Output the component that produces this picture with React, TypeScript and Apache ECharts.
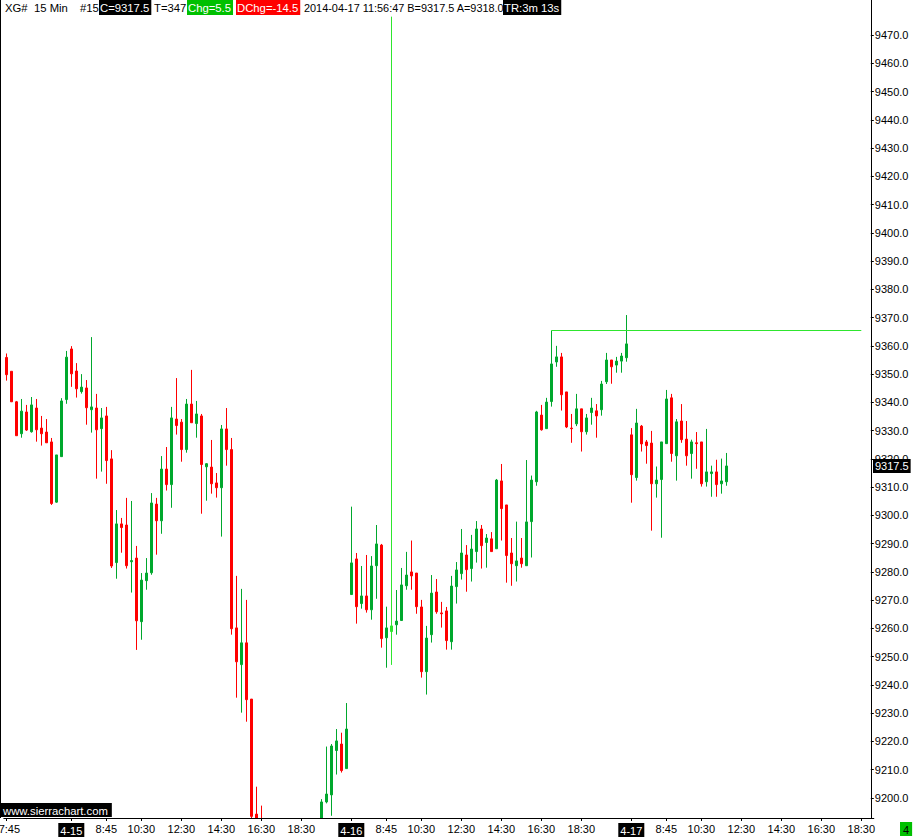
import React, { useEffect, useRef } from 'react';
import * as echarts from 'echarts';

const FONT = '"Liberation Sans", Arial, sans-serif';
const HFS = 11.3;
const UP = '#00a82d';
const DOWN = '#ff0000';
const LIME = '#2ee62e';

// 15-minute slots: 4-14 from 17:45, then full sessions 7:00-20:45, 4-17 up to 19:00
const sessions: [string, number, number][] = [
  ['4-14', 17 * 60 + 45, 20 * 60 + 45],
  ['4-15', 7 * 60, 20 * 60 + 45],
  ['4-16', 7 * 60, 20 * 60 + 45],
  ['4-17', 7 * 60, 19 * 60],
];
const categories: string[] = [];
sessions.forEach(([d, s, e]) => {
  for (let m = s; m <= e; m += 15) {
    categories.push(`${d} ${Math.floor(m / 60)}:${String(m % 60).padStart(2, '0')}`);
  }
});

const tickIdx = [0, 13, 20, 27, 35, 43, 51, 59, 69, 76, 83, 91, 99, 107, 115, 125, 132, 139, 147, 155, 163, 171];
const tickText = ['17:45', '4-15', '8:45', '10:30', '12:30', '14:30', '16:30', '18:30', '4-16', '8:45', '10:30', '12:30', '14:30', '16:30', '18:30', '4-17', '8:45', '10:30', '12:30', '14:30', '16:30', '18:30'];

const opens = [
  9355.9, 9351.0, 9340.2, 9328.9, 9336.6, 9329.6, 9338.0, 9330.9, 9329.5, 9326.0,
  9304.7, 9320.8, 9341.0, 9358.9, 9351.1, 9343.8, 9345.1, 9337.4, 9338.0, 9330.7,
  9335.2, 9320.0, 9283.3, 9297.0, 9296.6, 9283.6, 9284.9, 9262.4, 9276.9, 9279.7,
  9304.0, 9298.1, 9316.4, 9310.9, 9334.1, 9333.0, 9323.3, 9339.4, 9332.5, 9335.2,
  9317.2, 9317.1, 9311.5, 9309.8, 9330.6, 9323.3, 9260.2, 9247.2, 9254.9, 9235.0,
  9194.3, 9185.0, 9180, 9175, 9179, 9172, 9177, 9182, 9178, 9183,
  9181, 9185, 9184, 9188.0, 9198.6, 9201.1, 9216.8, 9219.1, 9210.4, 9272.0,
  9284.6, 9268.8, 9271.5, 9266.6, 9282.2, 9289.5, 9256.7, 9258.9, 9261.3, 9262.8,
  9275.1, 9280.0, 9279.6, 9267.6, 9244.7, 9257.8, 9272.9, 9265.5, 9266.2, 9255.3,
  9274.8, 9279.4, 9286.0, 9281.2, 9287.2, 9295.2, 9290.4, 9291.7, 9288.2, 9312.2,
  9303.7, 9286.7, 9282.2, 9284.9, 9282.2, 9297.8, 9311.9, 9335.5, 9330.7, 9340.3,
  9354.3, 9356.1, 9343.7, 9330.9, 9332.4, 9337.7, 9329.6, 9336.4, 9337.0, 9337.4,
  9347.3, 9355.0, 9353.2, 9354.6, 9355.8, 9328.5, 9313.4, 9331.6, 9326.0, 9325.6,
  9311.2, 9312.7, 9325.4, 9341.6, 9321.1, 9333.4, 9327.0, 9321.9, 9325.7, 9326.0,
  9311.9, 9314.8, 9315.4, 9311.2, 9311.9,
];
const highs = [
  9357.3, 9351.0, 9340.5, 9341.2, 9339.1, 9341.9, 9341.2, 9335.2, 9334.1, 9327.4,
  9321.4, 9341.5, 9358.2, 9359.9, 9353.9, 9350.0, 9347.9, 9363.1, 9343.0, 9338.0,
  9338.4, 9323.1, 9301.9, 9299.1, 9306.2, 9305.1, 9289.2, 9279.6, 9284.9, 9307.9,
  9306.2, 9321.0, 9324.2, 9338.4, 9348.6, 9334.1, 9341.2, 9351.5, 9340.5, 9335.9,
  9318.5, 9326.7, 9315.0, 9332.0, 9338.0, 9327.4, 9278.6, 9274.0, 9270.1, 9235.0,
  9204.0, 9197.3, 9188, 9183, 9186, 9180, 9185, 9189, 9186, 9190,
  9188, 9191, 9190, 9199.6, 9218.2, 9219.1, 9224.4, 9223.1, 9233.6, 9303.1,
  9286.7, 9282.1, 9286.0, 9285.6, 9296.6, 9289.9, 9267.7, 9476.5, 9273.6, 9281.4,
  9287.1, 9291.1, 9279.6, 9270.1, 9260.9, 9278.9, 9277.5, 9269.4, 9267.6, 9278.6,
  9283.5, 9295.2, 9289.5, 9293.1, 9298.0, 9296.6, 9293.4, 9294.1, 9312.9, 9318.2,
  9303.7, 9292.0, 9297.8, 9292.0, 9319.6, 9314.1, 9337.0, 9339.1, 9341.6, 9365.4,
  9360.0, 9357.5, 9343.7, 9335.9, 9343.0, 9337.7, 9335.9, 9341.6, 9339.4, 9347.6,
  9357.5, 9355.0, 9356.1, 9357.5, 9370.9, 9330.9, 9337.7, 9332.0, 9326.7, 9329.9,
  9317.3, 9326.0, 9344.4, 9343.0, 9334.1, 9339.4, 9333.4, 9326.8, 9329.5, 9326.0,
  9330.6, 9317.6, 9319.7, 9320.1, 9322.1,
];
const lows = [
  9347.7, 9340.2, 9328.2, 9327.5, 9329.9, 9329.3, 9326.1, 9324.7, 9325.7, 9303.7,
  9304.5, 9320.8, 9339.5, 9345.5, 9341.7, 9343.1, 9332.1, 9329.3, 9313.0, 9315.5,
  9311.2, 9281.4, 9277.6, 9286.8, 9281.2, 9272.7, 9252.4, 9256.0, 9273.7, 9279.0,
  9286.1, 9293.5, 9308.8, 9302.7, 9328.6, 9319.0, 9322.2, 9332.8, 9327.5, 9300.6,
  9305.2, 9307.7, 9306.3, 9292.5, 9317.6, 9257.8, 9235.5, 9230.2, 9227.0, 9190.0,
  9180.0, 9176.0, 9172, 9168, 9170, 9165, 9171, 9176, 9173, 9177,
  9175, 9179, 9180, 9185.0, 9198.1, 9193.7, 9208.3, 9209.0, 9210.4, 9272.0,
  9261.7, 9267.0, 9265.6, 9263.1, 9270.5, 9253.2, 9246.1, 9247.1, 9257.8, 9262.8,
  9273.7, 9273.7, 9265.2, 9242.6, 9236.6, 9255.0, 9265.2, 9260.3, 9252.5, 9252.5,
  9268.8, 9277.3, 9273.0, 9276.6, 9283.3, 9281.2, 9281.5, 9287.2, 9288.2, 9291.1,
  9276.2, 9275.1, 9276.6, 9281.5, 9282.2, 9285.1, 9310.5, 9330.0, 9330.7, 9338.5,
  9352.6, 9337.1, 9330.9, 9325.7, 9331.6, 9322.6, 9328.6, 9332.1, 9327.5, 9335.3,
  9346.5, 9346.6, 9350.5, 9350.5, 9354.4, 9304.5, 9312.3, 9322.6, 9318.3, 9294.6,
  9306.3, 9292.1, 9325.4, 9319.0, 9312.3, 9325.7, 9317.6, 9313.0, 9316.5, 9310.2,
  9310.2, 9306.6, 9306.6, 9307.7, 9310.5,
];
const closes = [
  9349.8, 9340.2, 9328.2, 9336.9, 9330.2, 9339.1, 9330.3, 9328.9, 9325.7, 9304.2,
  9321.4, 9340.5, 9356.0, 9350.1, 9344.8, 9345.4, 9338.1, 9338.4, 9330.3, 9334.5,
  9319.4, 9282.1, 9297.0, 9295.7, 9282.2, 9284.0, 9262.7, 9277.1, 9279.6, 9304.4,
  9298.1, 9316.4, 9310.9, 9334.5, 9331.8, 9323.3, 9339.4, 9332.8, 9335.9, 9318.0,
  9318.3, 9311.2, 9309.8, 9330.6, 9323.3, 9259.9, 9248.2, 9254.9, 9234.8, 9193.5,
  9184.0, 9180.0, 9175, 9179, 9172, 9177, 9182, 9178, 9183, 9181,
  9185, 9184, 9188, 9198.6, 9201.4, 9218.4, 9220.2, 9209.7, 9224.4, 9283.2,
  9267.7, 9271.5, 9266.6, 9282.1, 9289.9, 9256.4, 9260.2, 9260.9, 9262.6, 9275.4,
  9278.9, 9278.6, 9267.7, 9244.7, 9256.6, 9272.5, 9265.9, 9265.2, 9255.7, 9275.0,
  9280.7, 9286.7, 9280.8, 9288.1, 9295.2, 9289.3, 9292.0, 9287.2, 9312.5, 9302.4,
  9285.8, 9282.9, 9283.9, 9282.9, 9297.7, 9312.5, 9336.6, 9330.3, 9340.1, 9353.6,
  9356.1, 9342.7, 9331.3, 9330.7, 9337.7, 9329.6, 9334.5, 9338.0, 9335.2, 9346.5,
  9355.0, 9352.6, 9354.6, 9356.4, 9360.7, 9314.4, 9332.7, 9325.3, 9324.7, 9311.2,
  9312.5, 9326.0, 9341.2, 9321.9, 9333.1, 9326.8, 9321.1, 9326.0, 9325.4, 9311.2,
  9315.4, 9315.4, 9310.9, 9312.2, 9317.5,
];

const spikeBar = 77; // highlighted bar with the bad-tick high
const hiLineStart = 109;
const hiLineEnd = 171;
const lastPrice = closes[closes.length - 1];

const headerPlain: [number, string, number][] = [
  [5, 'XG#', HFS],
  [34, '15 Min', HFS],
  [80, '#15', HFS],
  [154, 'T=347', HFS],
  [304, '2014-04-17 11:56:47 B=9317.5 A=9318.0', 10.9],
];
const headerBoxed: [number, string, string][] = [
  [99, 'C=9317.5', '#000000'],
  [187, 'Chg=5.5', '#00c000'],
  [236, 'DChg=-14.5', '#ff0000'],
  [503, 'TR:3m 13s', '#000000'],
];

export default function App() {
  const ref = useRef<HTMLDivElement>(null);
  useEffect(() => {
    const chart = echarts.init(ref.current!, null, { renderer: 'svg' });
    const candleData = opens.map((o, i) => {
      const v = [o, closes[i], lows[i], highs[i]];
      if (i === spikeBar) {
        return { value: v, itemStyle: { color: LIME, color0: LIME, borderColor: LIME, borderColor0: LIME } };
      }
      return v;
    });
    const labelFor = (i: number) => {
      const k = tickIdx.indexOf(i);
      if (k < 0) return '';
      const t = tickText[k];
      return t.includes('-') ? `{d|${t}}` : t;
    };
    chart.setOption({
      animation: false,
      backgroundColor: '#ffffff',
      textStyle: { fontFamily: FONT },
      grid: [
        { left: 3.8, top: 0, width: 870, height: 818, containLabel: false, outerBoundsMode: 'none' },
        { left: 3.8, top: 35, width: 870, height: 763, containLabel: false, outerBoundsMode: 'none' },
      ],
      xAxis: [
        {
          type: 'category',
          gridIndex: 0,
          z: 10,
          data: categories,
          boundaryGap: true,
          axisLine: { onZero: false, lineStyle: { color: '#000', width: 1 } },
          axisTick: {
            show: true,
            alignWithLabel: true,
            length: 3,
            interval: (i: number) => tickIdx.includes(i),
            lineStyle: { color: '#000' },
          },
          axisLabel: {
            interval: (i: number) => tickIdx.includes(i),
            formatter: (_v: string, i: number) => labelFor(i),
            color: '#000',
            fontSize: 11,
            fontFamily: FONT,
            margin: 5,
            rich: {
              d: { backgroundColor: '#000', color: '#fff', fontSize: 11, fontFamily: FONT, padding: [2, 2, 1, 2] },
            },
          },
          splitLine: { show: false },
        },
        { type: 'category', gridIndex: 1, data: categories, show: false },
      ],
      yAxis: [
        {
          type: 'value',
          gridIndex: 0,
          z: 10,
          position: 'right',
          offset: -3,
          min: 9192.92,
          max: 9482.39,
          axisLine: { show: true, onZero: false, lineStyle: { color: '#000', width: 1 } },
          axisTick: { show: false },
          axisLabel: { show: false },
          splitLine: { show: false },
        },
        {
          type: 'value',
          gridIndex: 1,
          z: 10,
          position: 'right',
          offset: -3,
          min: 9200,
          max: 9470,
          interval: 10,
          axisLine: { show: false },
          axisTick: { show: true, length: 3, lineStyle: { color: '#000' } },
          axisLabel: {
            color: '#000',
            fontSize: 11,
            fontFamily: FONT,
            margin: 4,
            formatter: (v: number) => v.toFixed(1),
          },
          splitLine: { show: false },
        },
      ],
      series: [
        {
          type: 'candlestick',
          xAxisIndex: 0,
          yAxisIndex: 0,
          z: 2,
          data: candleData,
          barWidth: 2,
          silent: true,
          clip: true,
          itemStyle: { color: UP, color0: DOWN, borderColor: UP, borderColor0: DOWN, borderWidth: 1 },
          markLine: {
            silent: true,
            symbol: ['none', 'none'],
            label: { show: false },
            lineStyle: { color: LIME, width: 1, type: 'solid' },
            data: [
              [
                { coord: [categories[hiLineStart], highs[hiLineStart]] },
                { coord: [categories[hiLineEnd], highs[hiLineStart]] },
              ],
            ],
          },
        },
      ],
    });

    const py = chart.convertToPixel({ yAxisIndex: 0 }, lastPrice) as number;
    const graphics: any[] = [
      {
        // mask for bars that run below the plotting area
        type: 'rect',
        z: 5,
        silent: true,
        shape: { x: 0, y: 818.5, width: 914, height: 20 },
        style: { fill: '#ffffff' },
      },
      {
        type: 'line',
        z: 50,
        shape: { x1: 0.5, y1: 0, x2: 0.5, y2: 818 },
        style: { stroke: '#000', lineWidth: 1 },
      },
      ...headerPlain.map(([x, t, fs]) => ({
        type: 'text',
        z: 100,
        x,
        y: 2,
        style: { text: t, fill: '#000', font: `${fs}px ${FONT}`, verticalAlign: 'top' },
      })),
      ...headerBoxed.map(([x, t, bg]) => ({
        type: 'text',
        z: 100,
        x,
        y: 0,
        style: {
          text: t,
          fill: '#fff',
          font: `${HFS}px ${FONT}`,
          verticalAlign: 'top',
          backgroundColor: bg,
          padding: [2, 2, 2, 1],
        },
      })),
      {
        type: 'text',
        z: 100,
        x: 0,
        y: 803,
        style: {
          text: 'www.sierrachart.com',
          fill: '#fff',
          font: `${HFS}px ${FONT}`,
          verticalAlign: 'top',
          backgroundColor: '#000',
          padding: [2, 4, 1, 3],
        },
      },
      {
        type: 'text',
        z: 100,
        x: 873,
        y: py,
        style: {
          text: lastPrice.toFixed(1),
          fill: '#fff',
          font: `11px ${FONT}`,
          verticalAlign: 'middle',
          backgroundColor: '#000',
          padding: [2, 2, 1, 2],
        },
      },
      {
        type: 'text',
        z: 100,
        x: 900,
        y: 822,
        style: {
          text: '4',
          fill: '#000',
          font: `11px ${FONT}`,
          verticalAlign: 'top',
          backgroundColor: '#00c000',
          padding: [2, 3, 1, 3],
        },
      },
    ];
    chart.setOption({ graphic: graphics });
    return () => chart.dispose();
  }, []);
  return (
    <div
      ref={ref}
      style={{ position: 'fixed', left: 0, top: 0, width: 914, height: 838, background: '#fff' }}
    />
  );
}
